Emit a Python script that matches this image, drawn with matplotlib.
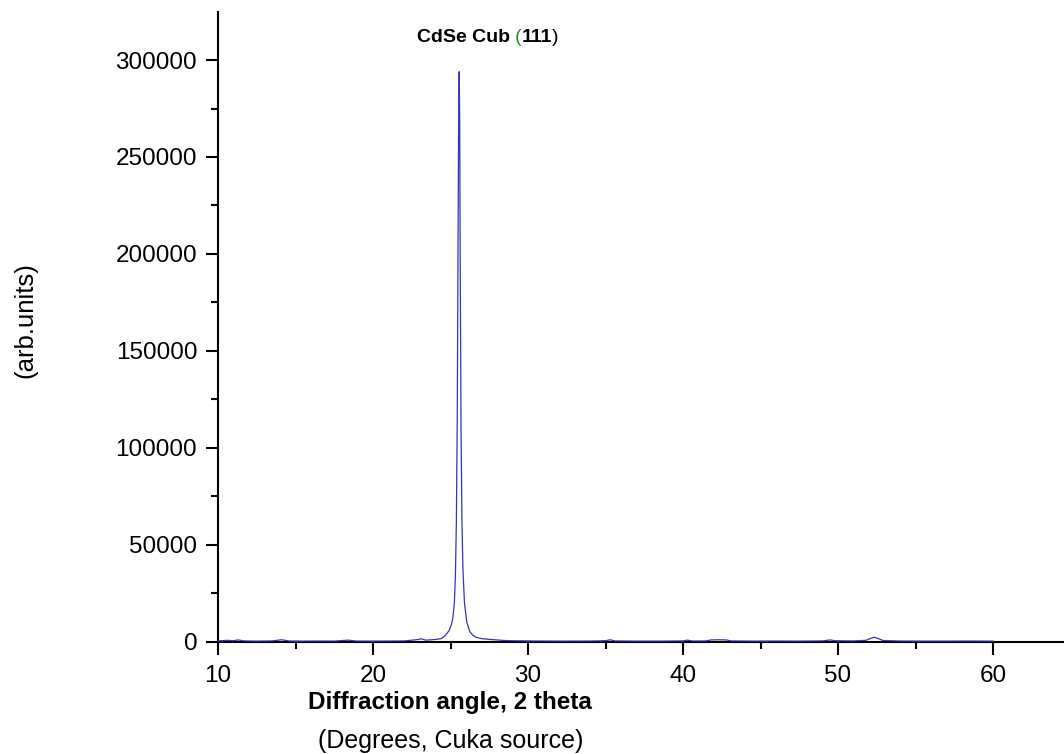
import matplotlib
matplotlib.use("Agg")
import matplotlib.pyplot as plt
from matplotlib.ticker import MultipleLocator, FuncFormatter

plt.rcParams["font.family"] = ["Liberation Sans", "DejaVu Sans"]

# XRD scan: diffraction angle (2 theta, degrees) and intensity (counts)
two_theta = [
    10.0, 10.6, 11.0, 11.3, 11.7, 12.5, 13.5, 14.1, 14.6, 15.5, 16.5, 17.5,
    18.4, 18.9, 20.0, 21.0, 22.0, 22.8, 23.1, 23.4, 23.8, 24.1, 24.4, 24.65,
    24.9, 25.05, 25.15, 25.25, 25.32, 25.38, 25.44, 25.49, 25.53, 25.56,
    25.59, 25.63, 25.68, 25.74, 25.8, 25.9, 26.05, 26.25, 26.45, 26.65,
    27.0, 27.5, 28.0, 28.5, 29.0, 30.0, 31.0, 32.5, 34.0, 35.0, 35.3, 35.6,
    37.0, 38.5, 40.0, 40.3, 40.6, 41.5, 41.8, 42.3, 42.8, 43.1, 44.5, 46.0,
    47.5, 49.0, 49.5, 49.8, 51.0, 51.8, 52.1, 52.35, 52.6, 52.9, 54.0, 55.5,
    57.0, 58.5, 60.0,
]
intensity = [
    300, 600, 400, 800, 300, 200, 300, 900, 250, 200, 250, 200,
    700, 250, 200, 250, 300, 900, 1400, 700, 900, 1100, 1500, 3000,
    5500, 8500, 12000, 20000, 35000, 62000, 120000, 210000, 275000, 294000,
    272000, 190000, 110000, 62000, 38000, 20000, 10000, 5000, 3200, 2200,
    1500, 1100, 800, 500, 400, 300, 250, 200, 250, 400, 900, 300,
    200, 200, 300, 700, 250, 300, 800, 900, 800, 300, 200, 250,
    200, 300, 800, 400, 300, 600, 1600, 2200, 1500, 500, 250, 200,
    200, 250, 200,
]

x_major = 10
x_minor = 5
y_major = 50000
y_minor = 25000

fig = plt.figure(figsize=(10.64, 7.54), dpi=100)
ax = fig.add_axes([218 / 1064, 1 - 641.5 / 754, 1 - 218 / 1064, (641.5 - 12) / 754])

ax.plot(two_theta, intensity, color="#3535b5", linewidth=0.9, zorder=5,
        clip_on=False)

ax.set_xlim(10, 10 + 846 / 15.5)
ax.set_ylim(0, 324800)

for side in ("top", "right"):
    ax.spines[side].set_visible(False)
for side in ("left", "bottom"):
    ax.spines[side].set_linewidth(1.5)
    ax.spines[side].set_color("black")

ax.xaxis.set_major_locator(MultipleLocator(x_major))
ax.xaxis.set_minor_locator(MultipleLocator(x_minor))
ax.yaxis.set_major_locator(MultipleLocator(y_major))
ax.yaxis.set_minor_locator(MultipleLocator(y_minor))
ax.yaxis.set_major_formatter(FuncFormatter(lambda v, p: f"{int(round(v))}"))

ax.tick_params(which="major", direction="out", length=9, width=1.5,
               labelsize=17.5, colors="black")
ax.tick_params(which="minor", direction="out", length=5, width=1.5)
ax.tick_params(axis="x", which="major", pad=8)
ax.tick_params(axis="y", which="major", pad=6)

fig.text(450 / 1064, 1 - 702 / 754, "Diffraction angle, 2 theta",
         ha="center", va="center", fontsize=17.5, fontweight="bold")
fig.text(451 / 1064, 1 - 741 / 754, "(Degrees, Cuka source)",
         ha="center", va="center", fontsize=18)
fig.text(25 / 1064, 1 - 320 / 754, "(arb.units)", rotation=90,
         ha="center", va="center", fontsize=18.5)

# Peak label "CdSe Cub (111)" with a green opening bracket
title_y = 1 - 42 / 754
parts = [("CdSe Cub", "bold", "black", 5), ("(", "normal", "#2e8b2e", 0),
         ("111", "bold", "black", 0), (")", "normal", "black", 0)]
fig.canvas.draw()
renderer = fig.canvas.get_renderer()
x_px = 417
for txt, weight, col, gap in parts:
    t = fig.text(x_px / 1064, title_y, txt, ha="left", va="baseline",
                 fontsize=14, fontweight=weight, color=col)
    bb = t.get_window_extent(renderer=renderer)
    x_px = bb.x1 + gap

fig.savefig("out.png", dpi=100)
